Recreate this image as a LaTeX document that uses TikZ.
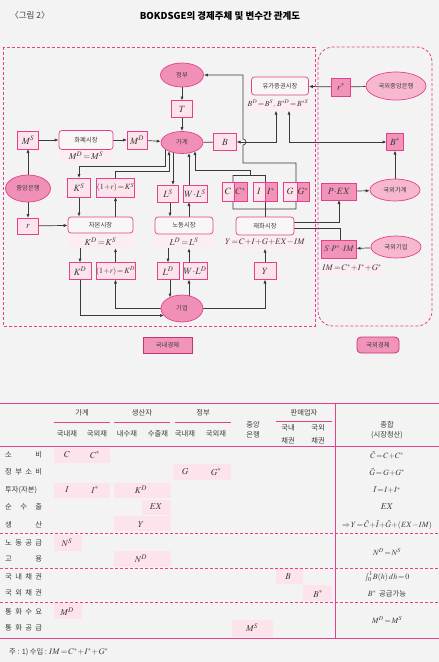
\documentclass[tikz,border=0pt]{standalone}
\usepackage{mathptmx}
\usepackage{fontspec}
\newfontfamily\kr{Noto Sans CJK KR}
\usetikzlibrary{arrows.meta,shapes.geometric,positioning}
\definecolor{paper}{HTML}{F3F3F3}
\definecolor{pline}{HTML}{E5408B}
\definecolor{ppale}{HTML}{FCE3EC}
\definecolor{pdark}{HTML}{F293B9}
\definecolor{pmid}{HTML}{F190B7}
\definecolor{plite}{HTML}{F6B7CF}
\definecolor{peq}{HTML}{FCEDF2}
\definecolor{pmkt}{HTML}{F8F6F7}
\definecolor{wirec}{HTML}{3A3A3A}
\definecolor{ink}{HTML}{3C3C3C}
\pgfdeclarelayer{paperlayer}
\pgfdeclarelayer{wires}
\pgfsetlayers{paperlayer,wires,main}

\begin{document}
\begin{tikzpicture}[x=1pt,y=-1pt,
    box/.style={draw=pline,fill=ppale,line width=0.7pt,outer sep=0pt,inner sep=0pt,
      minimum width=21pt,minimum height=17pt,text=ink,font=\fontsize{9.5}{10}\selectfont},
    dbox/.style={box,fill=pdark},
    mkt/.style={draw=pline,fill=pmkt,line width=0.7pt,rounded corners=3pt,inner sep=0pt,
      minimum height=18pt,text=ink,font=\kr\fontsize{6.3}{7}\selectfont},
    eqn/.style={fill=peq,inner sep=0pt,minimum height=13pt,text=ink,font=\fontsize{9}{10}\selectfont},
    agent/.style={ellipse,draw=pline,fill=pmid,line width=0.7pt,inner sep=0pt,
      text=ink,font=\kr\fontsize{6.3}{7}\selectfont},
    fagent/.style={agent,fill=plite},
    sector/.style={pline,line width=0.8pt,dash pattern=on 3pt off 2pt},
    tag/.style={draw=pline!85!black,fill=pdark,line width=0.8pt,minimum height=16pt,
      inner sep=0pt,text=ink,font=\kr\fontsize{6.3}{7}\selectfont},
    wire/.style={wirec,line width=0.7pt},
    hl/.style={fill=ppale},
    th/.style={text=ink,inner sep=0pt,font=\kr\fontsize{7.3}{9.5}\selectfont},
    rowl/.style={th,anchor=west},
    cell/.style={text=ink,inner sep=0pt,font=\fontsize{9}{10}\selectfont},
    tot/.style={text=ink,inner sep=0pt,font=\fontsize{8}{9}\selectfont},
    >={Latex[length=4pt,width=3.2pt]}
  ]
  \begin{pgfonlayer}{paperlayer}
    \fill[paper] (0,0) rectangle (439,662);
  \end{pgfonlayer}
  \useasboundingbox (0,0) rectangle (439,662);

  % title
  \node[th,font=\kr\fontsize{8.5}{9}\selectfont] (fignum) at (30,15) {〈그림 2〉};
  \node[th,font=\kr\bfseries\fontsize{9.5}{11}\selectfont,text=black] (title) at (220,16)
    {BOKDSGE의 경제주체 및 변수간 관계도};

  % the two economies
  \draw[sector] (3,47) rectangle (315,326);
  \draw[sector,rounded corners=15pt] (318,47) rectangle (432,326);
  \node[tag,minimum width=49pt] (home) at (167.5,345) {국내경제};
  \node[tag,rounded corners=4pt,minimum width=42pt] (abroad) at (378,345) {국외경제};

  % agents
  \node[agent,minimum width=43pt,minimum height=24pt] (gov) at (182,75) {정부};
  \node[agent,minimum width=42pt,minimum height=22pt] (hh) at (182,142.5) {가계};
  \node[agent,minimum width=45pt,minimum height=27pt] (cb) at (28,188.5) {중앙은행};
  \node[agent,minimum width=42pt,minimum height=27pt] (firm) at (182,308.5) {기업};
  \node[fagent,minimum width=60pt,minimum height=28pt] (fcb) at (396,86) {국외중앙은행};
  \node[fagent,minimum width=50pt,minimum height=22pt] (fhh) at (395,190) {국외가계};
  \node[fagent,minimum width=50pt,minimum height=22pt] (ffirm) at (396,247) {국외기업};

  % markets
  \node[mkt,minimum width=54pt,minimum height=19pt] (mmkt) at (86,140) {화폐시장};
  \node[eqn,minimum width=52pt] (Meq) at (86,156) {$M^{D}\!=\!M^{S}$};
  \node[mkt,minimum width=65pt,minimum height=16pt] (kmkt) at (100.5,225) {자본시장};
  \node[eqn,minimum width=65pt] (Keq) at (100.5,241.5) {$K^{D}\!=\!K^{S}$};
  \node[mkt,minimum width=58pt,minimum height=17pt] (lmkt) at (184,225.5) {노동시장};
  \node[eqn,minimum width=58pt] (Leq) at (184,241.5) {$L^{D}\!=\!L^{S}$};
  \node[mkt,minimum width=58pt] (gmkt) at (265,226) {재화시장};
  \node[eqn,minimum width=76pt,font=\fontsize{8.5}{9}\selectfont] (Yeq) at (265,242) {$Y\!=\!C\!+\!I\!+\!G\!+\!EX\!-\!IM$};
  \node[mkt,minimum width=57pt] (sec) at (280,86) {유가증권시장};
  \node[eqn,minimum width=64pt,font=\fontsize{7.8}{9}\selectfont] (Beq) at (278,104) {$B^{D}\!=\!B^{S},\,B^{*D}\!=\!B^{*S}$};
  \node[eqn,minimum width=56pt,font=\fontsize{8.5}{9}\selectfont] (IMeq) at (352,268) {$IM\!=\!C^{*}\!+\!I^{*}\!+\!G^{*}$};

  % flows
  \node[box] (T) at (182,109) {$T$};
  \node[box,minimum width=23pt] (B) at (225,142) {$B$};
  \node[box,minimum height=18pt] (MS) at (28,140) {$M^{S}$};
  \node[box,minimum width=20pt,minimum height=18pt] (MD) at (137,140) {$M^{D}$};
  \node[box,minimum height=16pt] (r) at (28,226) {$r$};
  \node[box,minimum width=23pt,minimum height=19pt] (KS) at (79,187.5) {$K^{S}$};
  \node[box,minimum width=35pt,minimum height=19pt,font=\fontsize{8}{9}\selectfont] (rKS) at (115.5,187.5) {$(1\!+\!r)\!=\!K^{S}$};
  \node[box] (LS) at (168,193.5) {$L^{S}$};
  \node[box,minimum width=24pt] (WLS) at (195,193.5) {$W\!\cdot\! L^{S}$};
  \node[box,minimum width=12pt,minimum height=19pt] (C) at (228,191.5) {$C$};
  \node[dbox,minimum width=13pt,minimum height=19pt,right=0pt of C] (Cs) {$C^{*}$};
  \node[box,minimum width=12pt,minimum height=19pt] (I) at (259,191.5) {$I$};
  \node[dbox,minimum width=12pt,minimum height=19pt,right=0pt of I] (Is) {$I^{*}$};
  \node[box,minimum width=14pt,minimum height=19pt] (G) at (290,191.5) {$G$};
  \node[dbox,minimum width=12pt,minimum height=19pt,right=0pt of G] (Gs) {$G^{*}$};
  \node[box,minimum width=22pt] (KD) at (80,271) {$K^{D}$};
  \node[box,minimum width=35pt,font=\fontsize{8}{9}\selectfont] (rKD) at (115.5,271) {$(1\!+\!r)\!=\!K^{D}$};
  \node[box,minimum width=22pt] (LD) at (168,271) {$L^{D}$};
  \node[box,minimum width=24pt] (WLD) at (195,271) {$W\!\cdot\! L^{D}$};
  \node[box,minimum width=22pt] (Y) at (265,271) {$Y$};
  \node[dbox,minimum width=19pt,minimum height=18pt] (rs) at (341,87) {$r^{*}$};
  \node[dbox,minimum width=17pt] (Bs) at (395,142) {$B^{*}$};
  \node[dbox,minimum width=35pt] (PEX) at (339,191.5) {$P\!\cdot\! EX$};
  \node[dbox,minimum width=35pt,minimum height=18pt,font=\fontsize{8.5}{9}\selectfont] (SPIM) at (339,249) {$S\!\cdot\! P^{*}\!\cdot\! IM$};

  \coordinate (jC) at (233,175);
  \coordinate (jM) at (250,175);
  \coordinate (jI) at (265,175);
  \coordinate (jL) at (233,209);
  \coordinate (jR) at (296,209);
  \coordinate (jG) at (296,163);
  \coordinate (jH) at (243,163);

  \begin{pgfonlayer}{wires}
    \draw[wire,->] (gov) -- (T);
    \draw[wire,->] (T) -- (hh);
    \draw[wire,->] (MS) -- (mmkt);
    \draw[wire,->] (mmkt) -- (MD);
    \draw[wire,->] (MD) -- (hh);
    \draw[wire,->] (cb) -- (MS);
    \draw[wire,->] (cb) -- (r);
    \draw[wire,->] (r) -- (kmkt);
    \draw[wire] (hh) -- (B);
    % household and the factor markets
    \draw[wire,->] ([xshift=-17pt,yshift=-6.5pt]hh.center) -- ++(0,17) -| (KS.north);
    \draw[wire,->] (rKS.north) -- ++(0,-6.5) -| ([xshift=-13pt,yshift=-8.6pt]hh.center);
    \draw[wire,->] (KS.south) -- (KS.south |- kmkt.north);
    \draw[wire,->] (kmkt.north -| rKS.south) -- (rKS.south);
    \draw[wire,->] ([xshift=-9pt,yshift=-9.9pt]hh.center) -- ([xshift=5pt]LS.north);
    \draw[wire,->] ([xshift=2pt]LS.south) -- ([xshift=2pt]LS.south |- lmkt.north);
    \draw[wire,->] ([xshift=-6pt]WLS.south |- lmkt.north) -- ([xshift=-6pt]WLS.south);
    \draw[wire,->] ([xshift=-6pt]WLS.north) -- ([xshift=7pt,yshift=-10.4pt]hh.center);
    % goods
    \draw[wire,->] (jM) -- ++(0,-5) -| ([xshift=13pt,yshift=-8.6pt]hh.center);
    \draw[wire] (jC) -- (jI) -- (gmkt.north);
    \draw[wire,->] (jC) -- (jL) -- (jR) -- (jG) -- (jH) -- ++(0,-18)
      arc[start angle=-90,end angle=90,radius=3pt] -- (jH |- gov.east) -- (gov.east);
    % bonds
    \draw[wire,<->] ([xshift=-2pt]Beq.south) |- (B.east);
    \draw[wire,<->] ([xshift=11pt]Beq.south) |- (Bs.west);
    \draw[wire,->] (rs) -- (sec);
    \draw[wire] (fcb) -- (rs);
    \draw[wire,->] (fhh) -- (Bs);
    \draw[wire,->] (PEX) -- (fhh);
    \draw[wire,->] ([yshift=4pt]gmkt.east) -| (PEX.south);
    \draw[wire] ([yshift=-2pt]gmkt.east) -| ([xshift=1pt]SPIM.north);
    \draw[wire,->] (ffirm) -- (SPIM);
    % firm
    \draw[wire,->] (Keq.south -| KD.north) -- (KD.north);
    \draw[wire,->] (rKD.north) -- (Keq.south -| rKD.north);
    \draw[wire,->] (Leq.south -| LD.north) -- (LD.north);
    \draw[wire,->] ([xshift=-6pt]WLD.north) -- ([xshift=-6pt]WLD.north |- Leq.south);
    \draw[wire,->] (Y.north) -- (Yeq.south -| Y.north);
    \draw[wire,->] (KD.south) |- ([xshift=-18pt,yshift=-7pt]firm.center);
    \draw[wire,->] (firm.west) -| (rKD.south);
    \draw[wire,->] ([xshift=2pt]LD.south) -- ([xshift=-12pt,yshift=11pt]firm.center);
    \draw[wire,->] ([xshift=7pt,yshift=12.5pt]firm.center) -- ([xshift=-6pt]WLD.south);
    \draw[wire,->] (firm.east) -| (Y.south);
  \end{pgfonlayer}

  % table
  \fill[hl] (54,448) rectangle (110,463);
  \fill[hl] (173,464) rectangle (231,480);
  \fill[hl] (54,483) rectangle (110,498);
  \fill[hl] (114,483) rectangle (171,498);
  \fill[hl] (142,500) rectangle (171,515);
  \fill[hl] (114,516) rectangle (171,531);
  \fill[hl] (54,535) rectangle (82,551);
  \fill[hl] (114,551) rectangle (171,567);
  \fill[hl] (276,568) rectangle (303,584);
  \fill[hl] (303,585) rectangle (332,601);
  \fill[hl] (54,603) rectangle (82,619);
  \fill[hl] (232,620) rectangle (273,637);

  \draw[pline,line width=1pt] (0,403) -- (439,403);
  \draw[pline,line width=0.8pt] (54,422) -- (110,422);
  \draw[pline,line width=0.8pt] (114,422) -- (170,422);
  \draw[pline,line width=0.8pt] (175,422) -- (231,422);
  \draw[pline,line width=0.8pt] (276,421) -- (332,421);
  \draw[pline,line width=1pt] (0,446) -- (439,446);
  \draw[sector] (0,533) -- (439,533);
  \draw[sector] (0,568) -- (439,568);
  \draw[sector] (0,602) -- (439,602);
  \draw[pline,line width=1pt] (0,638) -- (439,638);
  \draw[pline,line width=1pt] (335,403) -- (335,638);

  \node[th] (hhh) at (82,413) {가계};
  \node[th] (hpr) at (142,413) {생산자};
  \node[th] (hgv) at (203,413) {정부};
  \node[th] (hdl) at (304,413) {판매업자};
  \node[th,align=center] (hcb) at (253,430) {중앙\\은행};
  \node[th,align=center] (hsum) at (387,430) {종합\\(시장청산)};
  \node[th] (col1) at (67,434) {국내재};
  \node[th] (col2) at (97,434) {국외재};
  \node[th] (col3) at (127,434) {내수재};
  \node[th] (col4) at (158,434) {수출재};
  \node[th] (col5) at (185,434) {국내재};
  \node[th] (col6) at (216,434) {국외재};
  \node[th,align=center] (col7) at (288,434.5) {국내\\[3pt]채권};
  \node[th,align=center] (col8) at (318,434.5) {국외\\[3pt]채권};

  \node[rowl] (row1) at (5,455) {\makebox[37pt][s]{소\hfill 비}};
  \node[rowl] (row2) at (5,472) {\makebox[37pt][s]{정\hfill 부\hfill 소\hfill 비}};
  \node[rowl] (row3) at (5,490) {투자(자본)};
  \node[rowl] (row4) at (5,507) {\makebox[37pt][s]{순\hfill 수\hfill 출}};
  \node[rowl] (row5) at (5,525) {\makebox[37pt][s]{생\hfill 산}};
  \node[rowl] (row6) at (5,543) {\makebox[37pt][s]{노\hfill 동\hfill 공\hfill 급}};
  \node[rowl] (row7) at (5,559) {\makebox[37pt][s]{고\hfill 용}};
  \node[rowl] (row8) at (5,577) {\makebox[37pt][s]{국\hfill 내\hfill 채\hfill 권}};
  \node[rowl] (row9) at (5,593) {\makebox[37pt][s]{국\hfill 외\hfill 채\hfill 권}};
  \node[rowl] (row10) at (5,612) {\makebox[37pt][s]{통\hfill 화\hfill 수\hfill 요}};
  \node[rowl] (row11) at (5,628) {\makebox[37pt][s]{통\hfill 화\hfill 공\hfill 급}};

  \node[cell] (vC) at (67,455) {$C$};
  \node[cell] (vCs) at (95,455) {$C^{*}$};
  \node[cell] (vG) at (185,472) {$G$};
  \node[cell] (vGs) at (216,472) {$G^{*}$};
  \node[cell] (vI) at (67,490) {$I$};
  \node[cell] (vIs) at (95,490) {$I^{*}$};
  \node[cell] (vKD) at (141,490) {$K^{D}$};
  \node[cell] (vEX) at (156,507) {$EX$};
  \node[cell] (vY) at (141,525) {$Y$};
  \node[cell] (vNS) at (67,543) {$N^{S}$};
  \node[cell] (vND) at (141,559) {$N^{D}$};
  \node[cell] (vB) at (288,577) {$B$};
  \node[cell] (vBs) at (318,594) {$B^{*}$};
  \node[cell] (vMD) at (67,612) {$M^{D}$};
  \node[cell] (vMS) at (252,628) {$M^{S}$};

  \node[tot] (sum1) at (387,455) {$\tilde{C}\!=\!C\!+\!C^{*}$};
  \node[tot] (sum2) at (387,472) {$\tilde{G}\!=\!G\!+\!G^{*}$};
  \node[tot] (sum3) at (387,490) {$\tilde{I}\!=\!I\!+\!I^{*}$};
  \node[cell] (sum4) at (387,507) {$EX$};
  \node[tot] (sum5) at (387,525) {$\Rightarrow\! Y\!=\!\tilde{C}\!+\!\tilde{I}\!+\!\tilde{G}\!+\!(EX\!-\!IM)$};
  \node[tot] (sum6) at (387,552) {$N^{D}\!=\!N^{S}$};
  \node[tot] (sum7) at (387,577) {$\int_{0}^{1}\!B(h)\,dh\!=\!0$};
  \node[tot] (sum8) at (387,594) {$B^{*}$ {\kr\fontsize{7.3}{8}\selectfont 공급가능}};
  \node[tot] (sum9) at (387,620) {$M^{D}\!=\!M^{S}$};

  \node[th,anchor=west] (note) at (9,652) {주 : 1) 수입 : {\fontsize{8.5}{9}\selectfont$IM\!=\!C^{*}\!+\!I^{*}\!+\!G^{*}$}};
\end{tikzpicture}
\end{document}
